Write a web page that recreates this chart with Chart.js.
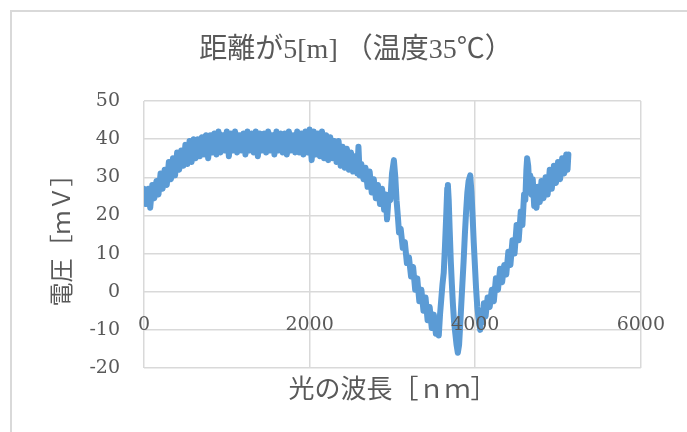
<!DOCTYPE html>
<html><head><meta charset="utf-8">
<script src="https://cdn.jsdelivr.net/npm/chart.js@4/dist/chart.umd.min.js"></script>
<style>
html,body{margin:0;padding:0;background:#fff;}
#wrap{position:relative;width:687px;height:432px;overflow:hidden;}
#frame{position:absolute;left:10px;top:10px;width:720px;height:460px;border-left:2px solid #d9d9d9;border-top:2px solid #d9d9d9;}
canvas{position:absolute;left:0;top:0;}
</style></head><body>
<div id="wrap"><div id="frame"></div><canvas id="c" width="687" height="432"></canvas></div>
<script>
const chartTitle = '距離が5[m] （温度35℃）';
const xTitle = '光の波長［ｎｍ］';
const yTitle = '電圧［ｍＶ］';
const xTicks = [0, 2000, 4000, 6000];
const yTicks = [-20, -10, 0, 10, 20, 30, 40, 50];

const wavelengths = [0,25,50,75,100,125,150,175,200,225,250,275,300,325,350,375,400,425,450,475,500,525,550,575,600,625,650,675,700,725,750,775,800,825,850,875,900,925,950,975,1000,1025,1050,1075,1100,1125,1150,1175,1200,1225,1250,1275,1300,1325,1350,1375,1400,1425,1450,1475,1500,1525,1550,1575,1600,1625,1650,1675,1700,1725,1750,1775,1800,1825,1850,1875,1900,1925,1950,1975,2000,2025,2050,2075,2100,2125,2150,2175,2200,2225,2250,2275,2300,2325,2350,2375,2400,2425,2450,2475,2500,2525,2550,2575,2590,2605,2625,2650,2675,2700,2725,2750,2775,2800,2825,2850,2875,2900,2920,2935,2955,2975,2995,3018,3035,3050,3065,3080,3100,3125,3150,3175,3200,3225,3250,3275,3300,3325,3350,3375,3400,3425,3450,3475,3500,3525,3545,3560,3575,3590,3605,3620,3635,3650,3662,3670,3680,3692,3705,3718,3730,3745,3760,3775,3790,3805,3818,3830,3845,3860,3875,3890,3905,3920,3940,3955,3968,3982,3996,4010,4025,4040,4060,4075,4090,4105,4125,4150,4175,4200,4225,4250,4275,4300,4325,4350,4375,4400,4425,4450,4475,4500,4525,4550,4570,4590,4605,4618,4627,4640,4652,4665,4680,4695,4712,4725,4740,4760,4780,4800,4825,4850,4875,4900,4925,4950,4975,5000,5025,5050,5075,5100,5115,5125];

const voltages = [27,23,27,22,28,24.5,29,25.5,31,27,32,28,34,29.5,35,30.5,36.5,32,37,33,38.5,33.5,39.5,34,40,35,40,35.5,40.5,36,41,35,41,36.5,41.5,36,42,36.5,41,37,42,35.5,41.5,37,42,36.5,41,37,41.5,36,42,37,41.5,36.5,42,35.5,41.5,37,41.5,36.5,42,37,41,36,42,37,41.5,36.5,41.5,36,42,37,41,36.5,42,36.5,41.5,36,42,36.5,42.5,34.5,42,36,41.5,35.5,42,35,41,34.5,40.5,35,39.5,34,39.5,33,38,32.5,37.5,32,36.5,31.5,35.5,31,38,30.5,33.5,29.5,32.5,27.5,31.5,26,29.5,24.5,28,23,27,21.5,25.5,19,25,24,31,34.5,30,24,20,15.5,16.5,11.5,13,7.5,9,4,6.5,0.5,3.5,-2.5,0.5,-5,-1.5,-7.5,-4,-9.5,-6,-11,-8,-11.5,-6,-2,2,5,12,20,27,28,24,16,8,2,-3,-8,-11,-14,-16,-14,-9,-4,2,8,15,21,26,29,30.5,26,20,13,7,1,-4,-7,-10,-5,-8,-3,-6.5,-1.5,-4,0.5,-2.5,3.5,0.5,6,2.5,7,4.5,10.5,7,13.5,10,17.5,13.5,21,17.5,25.5,24,32,35,33,28,30.5,25.5,29.5,22.5,27.5,22,27.5,23.5,29,24.5,30,25.5,32,27,33,28.5,34,29.5,35,31,36,32,36];

const points = wavelengths.map((w, i) => ({x: w, y: voltages[i]}));
const textColor = '#595959';
const gridColor = '#d9d9d9';
const tickFont = {family: "'DejaVu Serif', 'Liberation Serif', serif", size: 19};

const titlePlugin = {
  id: 'customTitle',
  afterDraw(chart) {
    const ctx = chart.ctx;
    ctx.save();
    ctx.font = "28px 'Liberation Serif', 'Noto Sans CJK JP', serif";
    ctx.fillStyle = textColor;
    ctx.textAlign = 'center';
    ctx.textBaseline = 'middle';
    ctx.fillText(chartTitle, 356, 51);
    ctx.restore();
  }
};

new Chart(document.getElementById('c'), {
  type: 'line',
  data: {
    datasets: [{
      data: points,
      borderColor: '#5b9bd5',
      backgroundColor: '#5b9bd5',
      borderWidth: 6,
      borderJoinStyle: 'round',
      borderCapStyle: 'round',
      pointRadius: 0,
      tension: 0,
      fill: false,
      xAxisID: 'x',
      yAxisID: 'y'
    }]
  },
  options: {
    responsive: false,
    animation: false,
    devicePixelRatio: 1,
    layout: {padding: {top: 101, left: 0, right: 36, bottom: 0}},
    plugins: {legend: {display: false}, tooltip: {enabled: false}, title: {display: false}},
    scales: {
      x: {
        type: 'linear', position: 'bottom', min: 0, max: 6000,
        afterBuildTicks: s => { s.ticks = xTicks.map(v => ({value: v})); },
        afterFit: s => { s.height = 64; },
        ticks: {display: false},
        grid: {color: gridColor, lineWidth: 1.5, drawTicks: false},
        border: {display: false},
        title: {display: true, text: xTitle, color: textColor,
                font: {family: "'Noto Sans CJK JP', sans-serif", size: 26},
                padding: {top: 0, bottom: 28}}
      },
      x2: {
        type: 'linear', position: {y: 0}, min: 0, max: 6000,
        afterBuildTicks: s => { s.ticks = xTicks.map(v => ({value: v})); },
        ticks: {color: textColor, font: tickFont, padding: 22, autoSkip: false, maxRotation: 0,
                z: 1, callback: v => String(v)},
        grid: {display: false, drawTicks: false},
        border: {display: false}
      },
      y: {
        type: 'linear', position: 'left', min: -20, max: 50,
        afterBuildTicks: s => { s.ticks = yTicks.map(v => ({value: v})); },
        afterFit: s => { s.width = 144; },
        ticks: {color: textColor, font: tickFont, padding: 24, autoSkip: false,
                callback: v => String(v)},
        grid: {color: gridColor, lineWidth: 1.5, drawTicks: false},
        border: {display: false},
        title: {display: true, text: yTitle, color: textColor,
                font: {family: "'Noto Sans CJK JP', sans-serif", size: 24},
                padding: {top: 46, bottom: 0}}
      }
    }
  },
  plugins: [titlePlugin]
});
</script>
</body></html>
